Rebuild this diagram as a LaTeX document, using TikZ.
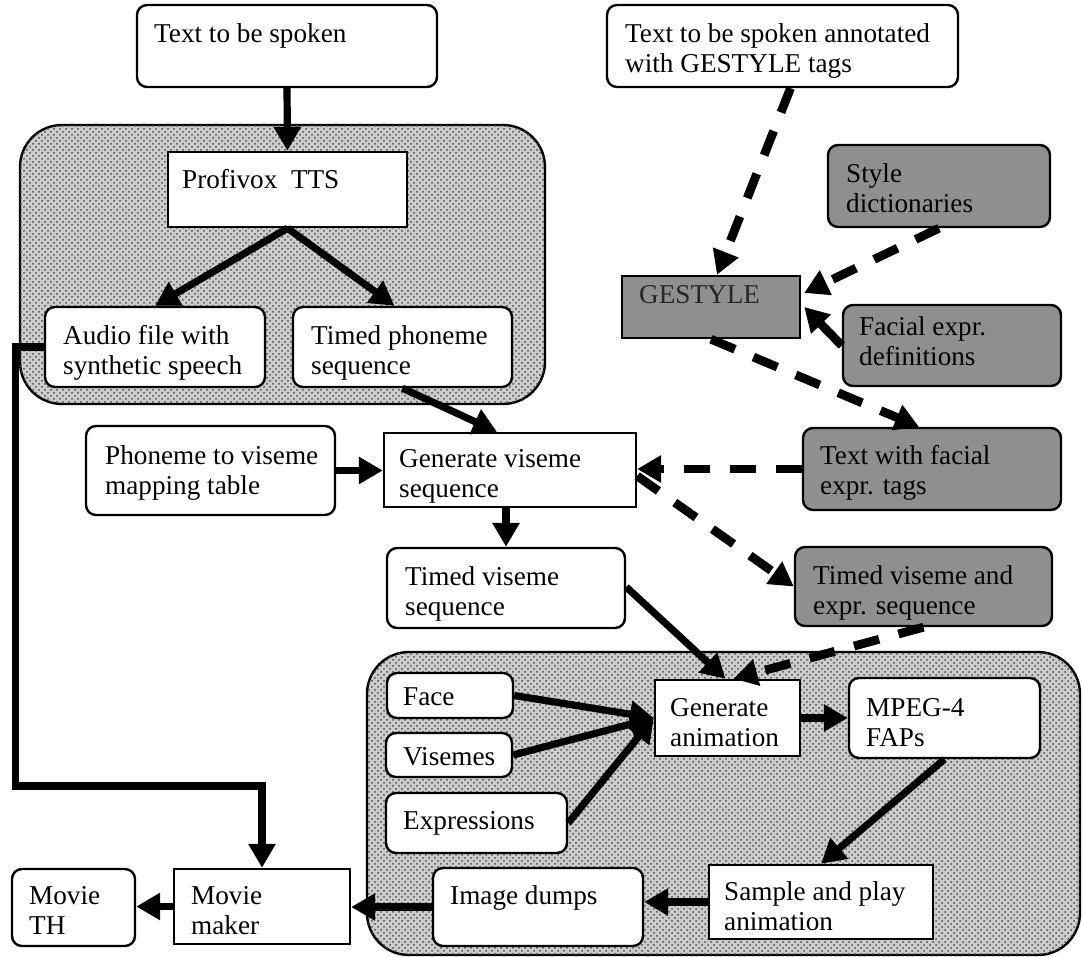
\documentclass[tikz,border=0pt]{standalone}
\usepackage{fontspec}
\setmainfont{Liberation Serif}
\usetikzlibrary{arrows.meta,calc,fit,patterns}
\newcommand\bx[9]{%
  \coordinate (#1-a) at (#3,#4);
  \coordinate (#1-b) at (#5,#6);
  \node[#2, fit=(#1-a)(#1-b), inner sep=0pt] (#1) {};
  \node[txt, anchor=north west] (#1-t) at ($(#1.north west)+(#7,#8)$) {#9};
}
\begin{document}
\begin{tikzpicture}[x=0.5pt,y=-0.5pt,
  txt/.style={inner sep=0pt, align=left, font=\fontsize{13.6}{15}\selectfont},
  wbox/.style={draw, line width=1.2pt, fill=white, rounded corners=5pt},
  wrect/.style={draw, line width=1.2pt, fill=white},
  dbox/.style={draw, line width=1.2pt, fill=black!44, rounded corners=5pt, text=black!85},
  drect/.style={draw, line width=1.2pt, fill=black!44},
  cont/.style={draw, line width=1.2pt, rounded corners=21pt, fill=black!20,
    postaction={pattern=crosshatch dots, pattern color=black!70}},
  arr/.style={line width=3.6pt, -{Triangle[length=12pt,width=13pt]}},
  darr/.style={line width=4.4pt, dash pattern=on 13pt off 10pt, -{Triangle[length=12pt,width=13pt]}},
  sarr/.style={line width=4.4pt, -{Triangle[length=12pt,width=13pt]}}
]
\useasboundingbox (0,0) rectangle (1082,957);
% containers
\path[cont] (20,125) rectangle (545,404);
\path[cont] (367,652) rectangle (1080,955);
% boxes
\bx{tts}{wbox}{137}{5}{437}{87}{18}{19}{Text to be spoken}
\bx{prof}{wrect}{168}{152}{407}{227}{15}{18}{Profivox\ \ TTS}
\bx{audio}{wbox}{45}{307}{265}{387}{19}{19}{Audio file with\\synthetic speech}
\bx{tph}{wbox}{293}{307}{512}{387}{19}{19}{Timed phoneme\\sequence}
\bx{ann}{wbox}{607}{5}{958}{87}{19}{19}{Text to be spoken annotated\\with GESTYLE tags}
\bx{sty}{dbox}{828}{145}{1050}{227}{19}{19}{Style\\dictionaries}
\bx{ges}{drect}{622}{276}{800}{338}{18}{10}{\textcolor{black!85}{GESTYLE}}
\bx{fac}{dbox}{843}{305}{1061}{386}{17}{12}{Facial expr.\\definitions}
\bx{map}{wbox}{86}{426}{335}{515}{20}{20}{Phoneme to viseme\\mapping table}
\bx{gv}{wrect}{384}{433}{636}{507}{16}{17}{Generate viseme\\sequence}
\bx{tft}{dbox}{803}{428}{1061}{510}{18}{18}{Text with facial\\expr. tags}
\bx{tv}{wbox}{387}{548}{625}{628}{19}{19}{Timed viseme\\sequence}
\bx{tve}{dbox}{795}{547}{1052}{626}{19}{19}{Timed viseme and\\expr. sequence}
\bx{face}{wbox}{387}{673}{513}{718}{17}{15}{Face}
\bx{vis}{wbox}{386}{733}{512}{777}{18}{15}{Visemes}
\bx{expr}{wbox}{386}{793}{567}{853}{18}{19}{Expressions}
\bx{ga}{wrect}{655}{680}{800}{756}{16}{19}{Generate\\animation}
\bx{mpeg}{wbox}{849}{678}{1040}{758}{18}{21}{MPEG-4\\FAPs}
\bx{sp}{wrect}{709}{865}{933}{939}{16}{17}{Sample and play\\animation}
\bx{img}{wbox}{433}{868}{643}{946}{18}{18}{Image dumps}
\bx{mm}{wrect}{174}{869}{350}{944}{18}{18}{Movie\\maker}
\bx{mth}{wbox}{12}{869}{135}{946}{18}{18}{Movie\\TH}
% solid connectors
\draw[arr] (tts.south) -- (prof.north);
\draw[arr] (prof.south) -- (audio.north);
\draw[arr] (prof.south) -- ($(tph.north)+(-8,0)$);
\draw[arr] (tph.south) -- ($(gv.north)+(-13,0)$);
\draw[arr] (map.east) -- (map.east -| gv.west);
\draw[arr] (tv.north |- gv.south) -- (tv.north);
\draw[arr] ($(tv.east)+(0,-1)$) -- ($(ga.north)+(-2,0)$);
\draw[arr] (face.east) -- (ga.west);
\draw[arr] (vis.east) -- (ga.west);
\draw[arr] (expr.east) -- (ga.west);
\draw[arr] (ga.east) -- (ga.east -| mpeg.west);
\draw[arr] (mpeg.south) -- (sp.north);
\draw[arr] (sp.west) -- (sp.west -| img.east);
\draw[arr] (img.west) -- (img.west -| mm.east);
\draw[arr] (mm.west) -- (mm.west -| mth.east);
\draw[arr] (audio.west) -- ++(-28,0) -- ++(0,439) -| (mm.north);
% dashed connectors
\draw[darr] ($(ann.south)+(8,0)$) -- ($(ges.north)+(6,0)$);
\draw[darr] (sty.south) -- ($(ges.east)+(3,-14)$);
\draw[sarr] (fac.west) -- ($(ges.east)+(3,0)$);
\draw[darr] (ges.south) -- ($(tft.north)+(-13,0)$);
\draw[darr] (tft.west) -- (tft.west -| gv.east);
\draw[darr] ($(gv.east)+(0,6)$) -- (tve.west);
\draw[darr] (tve.south) -- ($(ga.north)+(6,0)$);
\end{tikzpicture}
\end{document}
